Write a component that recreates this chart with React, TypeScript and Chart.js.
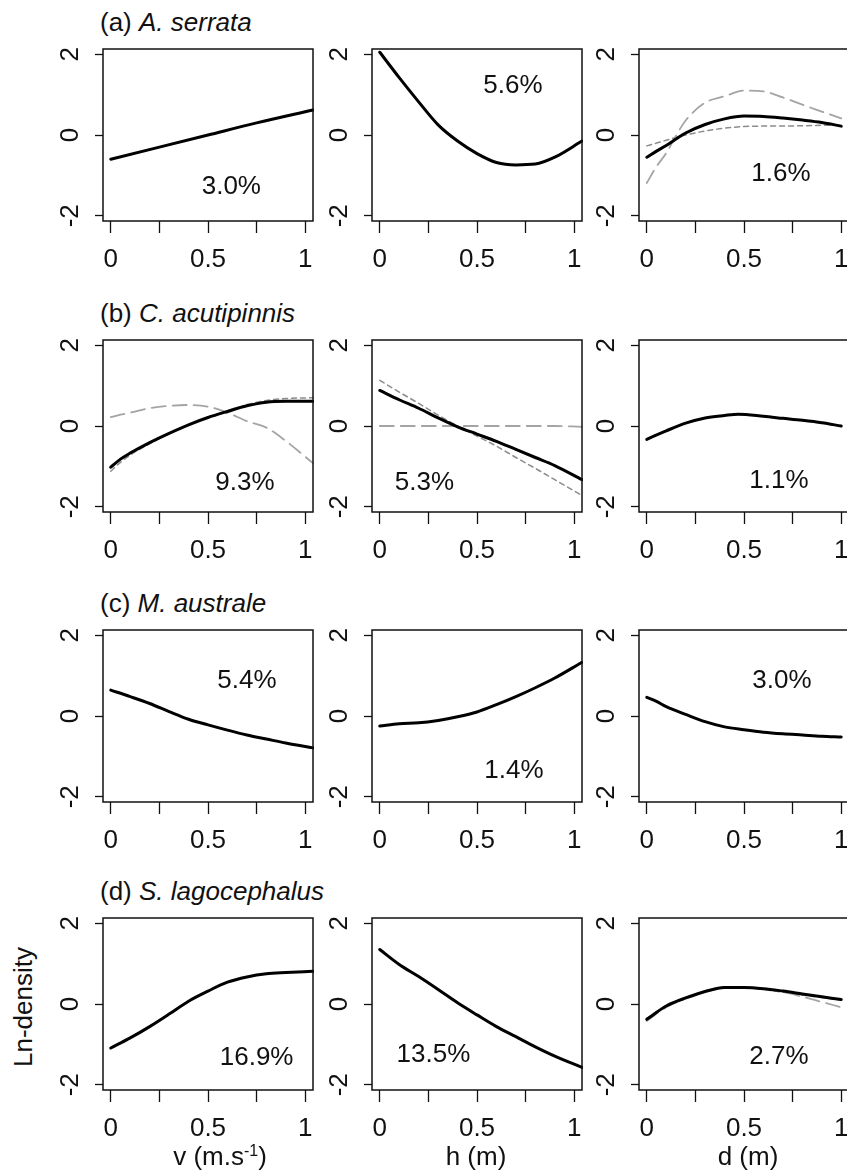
import React, { useEffect, useRef } from 'react';
import { Chart, registerables } from 'chart.js';

Chart.register(...registerables);

const FONT = '"Liberation Sans", Arial, Helvetica, sans-serif';

// ---- axis ticks ----
const xTickValues = [0, 0.25, 0.5, 0.75, 1];
const xTickLabels = ['0', '', '0.5', '', '1'];
const yTickValues = [-2, 0, 2];
const yTickLabels = ['-2', '0', '2'];

// ---- titles ----
const panelLetters = ['(a) ', '(b) ', '(c) ', '(d) '];
const speciesNames = ['A. serrata', 'C. acutipinnis', 'M. australe', 'S. lagocephalus'];
const yAxisTitle = 'Ln-density';

// ---- explained deviance labels ----
const percentLabels = [
  ['3.0%', '5.6%', '1.6%'],
  ['9.3%', '5.3%', '1.1%'],
  ['5.4%', '1.4%', '3.0%'],
  ['16.9%', '13.5%', '2.7%'],
];
const percentX = [
  [0.62, 0.685, 0.69],
  [0.69, 0.23, 0.68],
  [0.7, 0.69, 0.695],
  [0.75, 0.276, 0.68],
];
const percentY = [
  [-1.28, 1.23, -0.95],
  [-1.41, -1.41, -1.37],
  [0.87, -1.36, 0.87],
  [-1.34, -1.26, -1.3],
];

// ---- (a) A. serrata ----
const aV_x = [0, 0.25, 0.5, 0.75, 1.04];
const aV_fit = [-0.6, -0.3, 0.0, 0.3, 0.62];
const aH_x = [0, 0.1, 0.2, 0.3, 0.4, 0.5, 0.6, 0.7, 0.8, 0.9, 1.04];
const aH_fit = [2.05, 1.42, 0.82, 0.25, -0.15, -0.46, -0.68, -0.74, -0.72, -0.55, -0.15];
const aD_x = [0, 0.05, 0.1, 0.15, 0.2, 0.3, 0.4, 0.5, 0.6, 0.7, 0.8, 0.9, 1.0];
const aD_fit = [-0.55, -0.4, -0.26, -0.1, 0.05, 0.26, 0.4, 0.47, 0.46, 0.42, 0.37, 0.31, 0.22];
const aD_long = [-1.19, -0.78, -0.45, -0.02, 0.36, 0.8, 0.96, 1.1, 1.08, 0.93, 0.75, 0.58, 0.41];
const aD_short = [-0.27, -0.2, -0.13, -0.06, 0.0, 0.1, 0.17, 0.21, 0.22, 0.22, 0.23, 0.24, 0.25];

// ---- (b) C. acutipinnis ----
const bV_x = [0, 0.05, 0.1, 0.2, 0.3, 0.4, 0.5, 0.6, 0.7, 0.8, 0.9, 1.04];
const bV_fit = [-1.02, -0.82, -0.67, -0.41, -0.18, 0.03, 0.21, 0.36, 0.5, 0.59, 0.61, 0.61];
const bV_short = [-1.12, -0.9, -0.72, -0.44, -0.19, 0.03, 0.22, 0.38, 0.53, 0.63, 0.68, 0.7];
const bV_long = [0.22, 0.28, 0.33, 0.44, 0.5, 0.52, 0.48, 0.33, 0.12, -0.04, -0.37, -0.92];
const bH_x = [0, 0.1, 0.2, 0.3, 0.4, 0.5, 0.6, 0.7, 0.8, 0.9, 1.04];
const bH_fit = [0.88, 0.65, 0.44, 0.2, -0.02, -0.2, -0.38, -0.58, -0.78, -0.98, -1.33];
const bH_short = [1.13, 0.84, 0.56, 0.27, 0.0, -0.25, -0.5, -0.78, -1.05, -1.33, -1.72];
const bH_long = [0, 0, 0, 0, 0, 0, 0, 0, 0, 0, -0.02];
const bD_x = [0, 0.1, 0.2, 0.3, 0.4, 0.47, 0.6, 0.7, 0.8, 0.9, 1.0];
const bD_fit = [-0.33, -0.12, 0.07, 0.2, 0.26, 0.29, 0.24, 0.19, 0.14, 0.08, 0.0];

// ---- (c) M. australe ----
const cV_x = [0, 0.1, 0.2, 0.3, 0.4, 0.5, 0.6, 0.7, 0.8, 0.9, 1.04];
const cV_fit = [0.64, 0.48, 0.31, 0.11, -0.08, -0.22, -0.35, -0.47, -0.57, -0.67, -0.79];
const cH_x = [0, 0.1, 0.2, 0.3, 0.4, 0.5, 0.6, 0.7, 0.8, 0.9, 1.04];
const cH_fit = [-0.25, -0.19, -0.17, -0.11, -0.02, 0.1, 0.28, 0.48, 0.7, 0.94, 1.33];
const cD_x = [0, 0.05, 0.1, 0.2, 0.3, 0.4, 0.5, 0.6, 0.7, 0.8, 0.9, 1.0];
const cD_fit = [0.46, 0.36, 0.23, 0.04, -0.14, -0.27, -0.34, -0.4, -0.44, -0.47, -0.5, -0.52];

// ---- (d) S. lagocephalus ----
const dV_x = [0, 0.1, 0.2, 0.3, 0.4, 0.5, 0.6, 0.7, 0.8, 0.9, 1.04];
const dV_fit = [-1.09, -0.84, -0.56, -0.25, 0.07, 0.32, 0.54, 0.67, 0.75, 0.78, 0.81];
const dH_x = [0, 0.1, 0.2, 0.3, 0.4, 0.5, 0.6, 0.7, 0.8, 0.9, 1.04];
const dH_fit = [1.35, 0.98, 0.68, 0.36, 0.03, -0.27, -0.56, -0.81, -1.06, -1.29, -1.57];
const dD_x = [0, 0.1, 0.2, 0.3, 0.4, 0.5, 0.6, 0.7, 0.8, 0.9, 1.0];
const dD_fit = [-0.38, -0.05, 0.15, 0.31, 0.41, 0.41, 0.38, 0.32, 0.25, 0.18, 0.11];
const dD_long = [-0.42, -0.08, 0.13, 0.3, 0.4, 0.42, 0.38, 0.3, 0.18, 0.05, -0.08];
const dD_short = [-0.36, -0.04, 0.16, 0.32, 0.42, 0.41, 0.36, 0.29, 0.22, 0.16, 0.1];

type Series = { x: number[]; y: number[]; kind: 'fit' | 'long' | 'short' };

const panelSeries: Series[][][] = [
  [
    [{ x: aV_x, y: aV_fit, kind: 'fit' }],
    [{ x: aH_x, y: aH_fit, kind: 'fit' }],
    [
      { x: aD_x, y: aD_fit, kind: 'fit' },
      { x: aD_x, y: aD_long, kind: 'long' },
      { x: aD_x, y: aD_short, kind: 'short' },
    ],
  ],
  [
    [
      { x: bV_x, y: bV_fit, kind: 'fit' },
      { x: bV_x, y: bV_short, kind: 'short' },
      { x: bV_x, y: bV_long, kind: 'long' },
    ],
    [
      { x: bH_x, y: bH_fit, kind: 'fit' },
      { x: bH_x, y: bH_short, kind: 'short' },
      { x: bH_x, y: bH_long, kind: 'long' },
    ],
    [{ x: bD_x, y: bD_fit, kind: 'fit' }],
  ],
  [
    [{ x: cV_x, y: cV_fit, kind: 'fit' }],
    [{ x: cH_x, y: cH_fit, kind: 'fit' }],
    [{ x: cD_x, y: cD_fit, kind: 'fit' }],
  ],
  [
    [{ x: dV_x, y: dV_fit, kind: 'fit' }],
    [{ x: dH_x, y: dH_fit, kind: 'fit' }],
    [
      { x: dD_x, y: dD_fit, kind: 'fit' },
      { x: dD_x, y: dD_long, kind: 'long' },
      { x: dD_x, y: dD_short, kind: 'short' },
    ],
  ],
];

// ---- layout ----
const COL_LEFT = [103, 372, 639];
const ROW_TOP = [49, 340, 629.5, 918];
const BOX_W = 210;
const BOX_H = 172;
const PAD_L = 60;
const PAD_B = 60;
const PAD_T = 6;
const PAD_R = 6;

const styleFor = (kind: string) => {
  if (kind === 'long') return { borderColor: '#a4a4a4', borderWidth: 1.8, borderDash: [14, 7] };
  if (kind === 'short') return { borderColor: '#8c8c8c', borderWidth: 1.5, borderDash: [5, 4] };
  return { borderColor: '#000000', borderWidth: 3, borderDash: [] as number[] };
};

function Panel({ row, col }: { row: number; col: number }) {
  const ref = useRef<HTMLCanvasElement>(null);
  const cw = BOX_W + PAD_L + PAD_R;
  const chh = BOX_H + PAD_T + PAD_B;

  useEffect(() => {
    if (!ref.current) return;
    const series = panelSeries[row][col];
    const pct = percentLabels[row][col];
    const px = percentX[row][col];
    const py = percentY[row][col];

    const rPlot = {
      id: 'rPlot',
      afterDraw(chart: any) {
        const { ctx, chartArea: a, scales } = chart;
        const xs = scales.x;
        const ys = scales.y;
        ctx.save();
        ctx.strokeStyle = '#111';
        ctx.lineWidth = 1.5;
        ctx.strokeRect(a.left, a.top, a.right - a.left, a.bottom - a.top);
        ctx.fillStyle = '#111';
        ctx.font = `26px ${FONT}`;
        ctx.textAlign = 'center';
        ctx.textBaseline = 'alphabetic';
        xTickValues.forEach((v, i) => {
          if (xTickLabels[i]) ctx.fillText(xTickLabels[i], xs.getPixelForValue(v), a.bottom + 46);
        });
        yTickValues.forEach((v, i) => {
          ctx.save();
          ctx.translate(a.left - 24.7, ys.getPixelForValue(v));
          ctx.rotate(-Math.PI / 2);
          ctx.fillText(yTickLabels[i], 0, 0);
          ctx.restore();
        });
        ctx.textBaseline = 'middle';
        ctx.fillText(pct, xs.getPixelForValue(px), ys.getPixelForValue(py));
        ctx.restore();
      },
    };

    const chart = new Chart(ref.current, {
      type: 'line',
      data: {
        datasets: series.map((s) => ({
          data: s.x.map((x, i) => ({ x, y: s.y[i] })),
          ...styleFor(s.kind),
          pointRadius: 0,
          fill: false,
          cubicInterpolationMode: 'monotone',
          borderCapStyle: 'round',
          borderJoinStyle: 'round',
          clip: 1,
        })),
      },
      options: {
        animation: false,
        responsive: false,
        events: [],
        layout: { padding: { top: PAD_T, right: PAD_R, left: 0, bottom: 0 } },
        plugins: { legend: { display: false }, tooltip: { enabled: false } },
        scales: {
          x: {
            type: 'linear',
            min: -0.04,
            max: 1.04,
            afterBuildTicks: (s: any) => {
              s.ticks = xTickValues.map((v) => ({ value: v }));
            },
            afterFit: (s: any) => {
              s.height = PAD_B;
            },
            ticks: { display: false },
            grid: { drawOnChartArea: false, drawTicks: true, tickLength: 12, tickColor: '#111', tickWidth: 1.3 },
            border: { display: false },
          },
          y: {
            type: 'linear',
            min: -2.13,
            max: 2.13,
            afterBuildTicks: (s: any) => {
              s.ticks = yTickValues.map((v) => ({ value: v }));
            },
            afterFit: (s: any) => {
              s.width = PAD_L;
            },
            ticks: { display: false },
            grid: { drawOnChartArea: false, drawTicks: true, tickLength: 8, tickColor: '#111', tickWidth: 1.3 },
            border: { display: false },
          },
        },
      },
      plugins: [rPlot],
    } as any);
    return () => chart.destroy();
  }, [row, col]);

  return (
    <canvas
      ref={ref}
      width={cw}
      height={chh}
      style={{
        position: 'absolute',
        left: COL_LEFT[col] - PAD_L,
        top: ROW_TOP[row] - PAD_T,
        width: cw,
        height: chh,
      }}
    />
  );
}

const textBase: React.CSSProperties = {
  position: 'absolute',
  fontSize: 26,
  lineHeight: '26px',
  whiteSpace: 'nowrap',
  color: '#111',
  fontFamily: FONT,
};

export default function App() {
  const cells: React.ReactNode[] = [];
  for (let r = 0; r < 4; r++) {
    for (let c = 0; c < 3; c++) cells.push(<Panel key={`${r}-${c}`} row={r} col={c} />);
  }
  const axisBaseline = 1165;
  return (
    <div
      style={{
        position: 'fixed',
        left: 0,
        top: 0,
        width: 847,
        height: 1176,
        overflow: 'hidden',
        background: '#ffffff',
      }}
    >
      {panelLetters.map((p, r) => (
        <div key={p} style={{ ...textBase, left: 100, top: ROW_TOP[r] - 18 - 22 }}>
          {p}
          <i>{speciesNames[r]}</i>
        </div>
      ))}
      {cells}
      <div style={{ ...textBase, left: 220, top: axisBaseline - 22, transform: 'translateX(-50%)' }}>
        v (m.s<span style={{ fontSize: 16, position: 'relative', top: -9 }}>-1</span>)
      </div>
      <div style={{ ...textBase, left: 476, top: axisBaseline - 22, transform: 'translateX(-50%)' }}>h (m)</div>
      <div style={{ ...textBase, left: 748, top: axisBaseline - 22, transform: 'translateX(-50%)' }}>d (m)</div>
      <div
        style={{
          ...textBase,
          left: 23,
          top: 1007,
          transform: 'translate(-50%, -50%) rotate(-90deg)',
        }}
      >
        {yAxisTitle}
      </div>
    </div>
  );
}
